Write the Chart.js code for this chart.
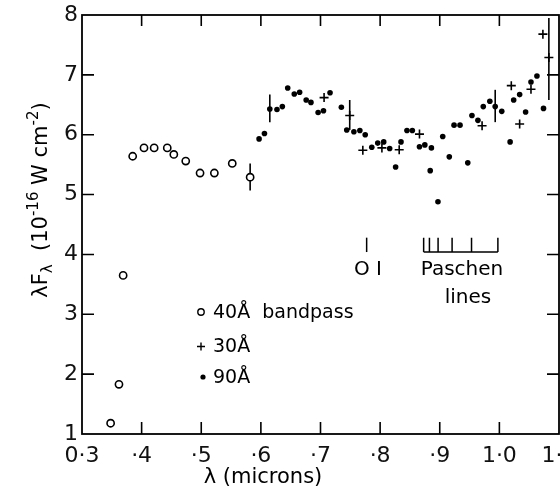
<!DOCTYPE html>
<html><head><meta charset="utf-8">
<script src="https://cdn.jsdelivr.net/npm/chart.js@4"></script>
<style>
html,body{margin:0;padding:0;background:#fff;overflow:hidden;width:560px;height:487px}
#wrap{position:relative;width:600px;height:487px}
</style>
</head><body>
<div id="wrap"><canvas id="c" width="600" height="487"></canvas></div>
<script>
// ---- data (wavelength in microns, lambda*F_lambda in 1e-16 W cm^-2) ----
const xTickLabels = {3:'0·3',4:'·4',5:'·5',6:'·6',7:'·7',8:'·8',9:'·9',10:'1·0',11:'1·1'};
const yTickLabels = {1:'1',2:'2',3:'3',4:'4',5:'5',6:'6',7:'7',8:'8'};

const band40X = [0.348,0.362,0.369,0.385,0.404,0.421,0.443,0.454,0.474,0.498,0.522,0.552,0.582];
const band40Y = [1.18, 1.83, 3.65, 5.64, 5.78, 5.78, 5.78, 5.67, 5.56, 5.36, 5.36, 5.52, 5.29];

const band30X = [0.706,0.749,0.771,0.803,0.832,0.866,0.971,1.020,1.034,1.053,1.073,1.083];
const band30Y = [6.62, 6.32, 5.74, 5.78, 5.75, 6.01, 6.15, 6.82, 6.18, 6.76, 7.68, 7.29];

const band90X = [0.597,0.606,0.615,0.627,0.636,0.645,0.656,0.665,0.676,0.684,0.696,0.705,0.716,0.735,
                 0.744,0.756,0.766,0.775,0.786,0.796,0.806,0.816,0.826,0.835,0.845,0.854,0.866,0.875,
                 0.886,0.884,0.897,0.905,0.916,0.924,0.934,0.947,0.954,0.964,0.973,0.984,0.993,1.004,
                 1.018,1.024,1.034,1.044,1.053,1.063,1.074];
const band90Y = [5.93,6.02,6.43,6.42,6.47,6.78,6.68,6.71,6.58,6.54,6.37,6.40,6.70,6.46,
                 6.08,6.05,6.07,6.00,5.79,5.86,5.88,5.77,5.46,5.88,6.07,6.07,5.80,5.83,
                 5.78,5.40,4.88,5.97,5.63,6.16,6.16,5.53,6.32,6.24,6.47,6.56,6.47,6.39,
                 5.88,6.58,6.67,6.38,6.88,6.98,6.44];

const errX  = [0.582,0.615,0.749,0.993,1.083];
const errLo = [5.07, 6.21, 6.08, 6.21, 6.58];
const errHi = [5.52, 6.67, 6.58, 6.75, 7.95];

const oiLine = 0.7774;
const paschenLines = [0.873,0.8827,0.8972,0.9207,0.9533,0.9975];

const pts = (xs, ys) => xs.map((x,i)=>({x, y: ys[i]}));
const FONT = "'DejaVu Sans', sans-serif";

const overlay = {
  id:'overlay',
  beforeDatasetsDraw(chart){
    const {ctx, scales:{x,y}} = chart;
    ctx.save();
    ctx.strokeStyle='#000'; ctx.lineWidth=1.6;
    errX.forEach((v,i)=>{
      const px = x.getPixelForValue(v);
      const y1 = Math.max(y.getPixelForValue(errHi[i]), chart.chartArea.top);
      ctx.beginPath(); ctx.moveTo(px, y.getPixelForValue(errLo[i])); ctx.lineTo(px, y1); ctx.stroke();
    });
    ctx.restore();
  },
  afterDatasetsDraw(chart){
    const {ctx, chartArea:a, scales:{x,y}} = chart;
    ctx.save();
    ctx.strokeStyle='#000'; ctx.fillStyle='#000';
    // frame
    ctx.lineWidth=1.8;
    ctx.strokeRect(a.left, a.top, a.right-a.left, a.bottom-a.top);
    // inward ticks
    ctx.lineWidth=1.6;
    for(let k=4;k<=10;k++){
      const px = x.getPixelForValue(k/10);
      ctx.beginPath();
      ctx.moveTo(px,a.bottom); ctx.lineTo(px,a.bottom-12);
      ctx.moveTo(px,a.top); ctx.lineTo(px,a.top+11);
      ctx.stroke();
    }
    for(let k=2;k<=7;k++){
      const py = y.getPixelForValue(k);
      ctx.beginPath();
      ctx.moveTo(a.left,py); ctx.lineTo(a.left+12,py);
      ctx.moveTo(a.right,py); ctx.lineTo(a.right-12,py);
      ctx.stroke();
    }
    // OI and Paschen markers
    const yT = y.getPixelForValue(4.28), yB = y.getPixelForValue(4.04);
    ctx.lineWidth=1.5;
    let ox = x.getPixelForValue(oiLine);
    ctx.beginPath(); ctx.moveTo(ox,yT); ctx.lineTo(ox,yB); ctx.stroke();
    ctx.beginPath();
    paschenLines.forEach(v=>{const px=x.getPixelForValue(v); ctx.moveTo(px,yT); ctx.lineTo(px,yB);});
    ctx.moveTo(x.getPixelForValue(paschenLines[0]),yB);
    ctx.lineTo(x.getPixelForValue(paschenLines[paschenLines.length-1]),yB);
    ctx.stroke();
    ctx.font = "20px "+FONT; ctx.textAlign='center'; ctx.textBaseline='middle';
    ctx.fillText('O I', 368, 270);
    ctx.fillText('Paschen', 462, 270);
    ctx.fillText('lines', 468, 298);
    // legend
    ctx.lineWidth=1.4;
    ctx.beginPath(); ctx.arc(201,312,3.2,0,Math.PI*2); ctx.stroke();
    ctx.beginPath(); ctx.moveTo(197,346.5); ctx.lineTo(205,346.5); ctx.moveTo(201,342.5); ctx.lineTo(201,350.5); ctx.stroke();
    ctx.beginPath(); ctx.arc(203,377,2.6,0,Math.PI*2); ctx.fill();
    ctx.font = "19px "+FONT; ctx.textAlign='left'; ctx.textBaseline='middle';
    ctx.fillText('40Å  bandpass', 213, 313);
    ctx.fillText('30Å', 213, 347);
    ctx.fillText('90Å', 213, 378);
    // x title
    ctx.font = "21px "+FONT; ctx.textAlign='center'; ctx.textBaseline='middle';
    ctx.fillText('λ (microns)', 263, 478);
    // y title (rotated)
    const segs = [['λF',0,21],['λ',5,15],['  (10',0,21],['-16',-9,15],[' W cm',0,21],['-2',-9,15],[')',0,21]];
    let total=0;
    segs.forEach(s=>{ctx.font=s[2]+'px '+FONT; total+=ctx.measureText(s[0]).width;});
    ctx.translate(47, 200); ctx.rotate(-Math.PI/2);
    ctx.textAlign='left'; ctx.textBaseline='alphabetic';
    let cx = -total/2;
    segs.forEach(s=>{ctx.font=s[2]+'px '+FONT; ctx.fillText(s[0], cx, s[1]); cx+=ctx.measureText(s[0]).width;});
    ctx.restore();
  }
};

new Chart(document.getElementById('c'), {
  type:'scatter',
  data:{datasets:[
    {label:'40Å bandpass', data:pts(band40X,band40Y), pointStyle:'circle', pointRadius:3.6,
     borderColor:'#000', backgroundColor:'#fff', borderWidth:1.6},
    {label:'30Å', data:pts(band30X,band30Y), pointStyle:'cross', pointRadius:4.5,
     borderColor:'#000', backgroundColor:'#000', borderWidth:1.6},
    {label:'90Å', data:pts(band90X,band90Y), pointStyle:'circle', pointRadius:2.8,
     borderColor:'#000', backgroundColor:'#000', borderWidth:0}
  ]},
  options:{
    responsive:false, animation:false, devicePixelRatio:1,
    layout:{padding:{top:15,right:41,left:0,bottom:0}},
    plugins:{legend:{display:false}, tooltip:{enabled:false}},
    scales:{
      x:{type:'linear', min:0.3, max:1.1,
         grid:{display:false}, border:{display:false},
         ticks:{stepSize:0.1, autoSkip:false, maxRotation:0, padding:1, color:'#111',
                font:{family:"'DejaVu Sans'", size:22},
                callback:v=>xTickLabels[Math.round(v*10)] ?? ''},
         afterFit:s=>{s.height=53;}},
      y:{type:'linear', min:1, max:8,
         grid:{display:false}, border:{display:false},
         ticks:{stepSize:1, padding:-4, color:'#111',
                font:{family:"'DejaVu Sans'", size:22},
                callback:v=>yTickLabels[Math.round(v)] ?? ''},
         afterFit:s=>{s.width=82;}}
    }
  },
  plugins:[overlay]
});
</script>
</body></html>
